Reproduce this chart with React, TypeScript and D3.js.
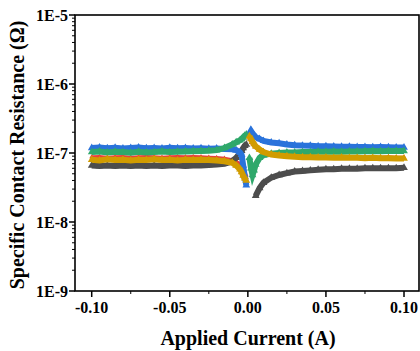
import React from "react";
import * as d3 from "d3";

const currents = [
  -0.1, -0.095, -0.09, -0.085, -0.08, -0.075, -0.07, -0.065, -0.06, -0.055, -0.05, -0.045, -0.04, -0.035, -0.03,
  -0.025, -0.02, -0.015, -0.01, -0.0075, -0.005, -0.004, -0.003, -0.002, -0.001,
  0.001, 0.002, 0.003, 0.004, 0.005, 0.0075, 0.01, 0.015, 0.02, 0.025, 0.03, 0.035, 0.04, 0.045, 0.05,
  0.055, 0.06, 0.065, 0.07, 0.075, 0.08, 0.085, 0.09, 0.095, 0.1,
];

// values in units of 1e-7 ohm (null = no point)
const redSeries = [
  0.88, 0.89, 0.87, 0.88, 0.89, 0.87, 0.88, 0.89, 0.88, 0.87, 0.88, 0.89, 0.88, 0.89, 0.88,
  0.87, 0.86, 0.84, 0.8, 0.76, 0.7, 0.64, 0.58, 0.52, 0.48,
  1.6, 1.5, 1.38, 1.28, 1.2, 1.08, 1.0, 0.93, 0.9, 0.89, 0.88, 0.88, 0.87, 0.88, 0.87,
  0.87, 0.88, 0.87, 0.87, 0.88, 0.87, 0.87, 0.88, 0.87, 0.87,
];
const graySeries = [
  0.66, 0.65, 0.66, 0.65, 0.66, 0.65, 0.66, 0.65, 0.66, 0.65, 0.66, 0.66, 0.65, 0.66, 0.66,
  0.67, 0.68, 0.7, 0.76, 0.85, 0.98, 1.08, 1.18, 1.27, 1.33,
  null, null, null, null, 0.24, 0.31, 0.37, 0.44, 0.48, 0.51, 0.54, 0.55, 0.56, 0.57, 0.58,
  0.58, 0.59, 0.59, 0.59, 0.6, 0.6, 0.6, 0.6, 0.6, 0.61,
];
const blueSeries = [
  1.18, 1.2, 1.17, 1.19, 1.16, 1.18, 1.2, 1.17, 1.18, 1.16, 1.19, 1.17, 1.18, 1.16, 1.17,
  1.15, 1.16, 1.14, 1.13, 1.1, 1.02, 0.94, 0.66, 0.46, 0.34,
  1.9, 2.08, 1.92, 1.8, 1.7, 1.6, 1.5, 1.42, 1.38, 1.33, 1.3, 1.28, 1.27, 1.25, 1.25,
  1.24, 1.23, 1.23, 1.22, 1.22, 1.21, 1.22, 1.21, 1.2, 1.2,
];
const greenSeries = [
  1.03, 1.05, 1.02, 1.04, 1.03, 1.01, 1.04, 1.02, 1.03, 1.05, 1.03, 1.04, 1.05, 1.06, 1.07,
  1.08, 1.1, 1.18, 1.33, 1.43, 1.53, 1.6, 1.68, 1.78, 1.85,
  0.85, 0.6, 0.48, 0.56, 0.68, 0.85, 0.93, 0.98, 1.0, 1.02, 1.02, 1.03, 1.03, 1.04, 1.04,
  1.05, 1.04, 1.05, 1.05, 1.06, 1.07, 1.06, 1.07, 1.07, 1.07,
];
const goldSeries = [
  0.8, 0.78, 0.81, 0.79, 0.8, 0.78, 0.8, 0.79, 0.81, 0.79, 0.8, 0.78, 0.8, 0.79, 0.8,
  0.79, 0.78, 0.76, 0.72, 0.66, 0.58, 0.53, 0.47, 0.43, 0.4,
  1.75, 1.6, 1.45, 1.35, 1.25, 1.12, 1.03, 0.95, 0.92, 0.9, 0.88, 0.87, 0.87, 0.86, 0.86,
  0.85, 0.86, 0.85, 0.85, 0.84, 0.85, 0.84, 0.84, 0.83, 0.83,
];

const seriesList = [
  { name: "red", color: "#e8413a", values: redSeries, width: 3, size: 10 },
  { name: "gray", color: "#4d4d4d", values: graySeries, width: 6, size: 26 },
  { name: "blue", color: "#2a73db", values: blueSeries, width: 6, size: 26 },
  { name: "green", color: "#2fa86b", values: greenSeries, width: 6, size: 26 },
  { name: "gold", color: "#d19c00", values: goldSeries, width: 6, size: 26 },
];

const xTicks = [-0.1, -0.05, 0, 0.05, 0.1];
const xTickLabels = ["-0.10", "-0.05", "0.00", "0.05", "0.10"];
const xMinorTicks = [-0.075, -0.025, 0.025, 0.075];
const yTicks = [1e-9, 1e-8, 1e-7, 1e-6, 1e-5];
const yTickLabels = ["1E-9", "1E-8", "1E-7", "1E-6", "1E-5"];

const W = 420;
const H = 351;
const L = 75;
const R = 419;
const T = 15;
const B = 291;
const FONT = "'Liberation Serif', 'Times New Roman', serif";

export default function App() {
  const x = d3.scaleLinear().domain([-0.1107, 0.1096]).range([L, R]);
  const y = d3.scaleLog().domain([1e-9, 1e-5]).range([B, T]);

  const minorY: number[] = [];
  for (let e = -9; e < -5; e++) {
    for (let m = 2; m <= 9; m++) minorY.push(m * Math.pow(10, e));
  }

  const line = d3
    .line<{ xv: number; yv: number | null }>()
    .defined((d) => d.yv !== null)
    .x((d) => x(d.xv))
    .y((d) => y((d.yv as number) * 1e-7));

  return (
    <svg width={W} height={H} style={{ position: "absolute", left: 0, top: 0, background: "#fff" }}>
      <rect x={0} y={0} width={W} height={H} fill="#fff" />
      <g>
        {seriesList.map((s) => {
          const tri = d3.symbol().type(d3.symbolTriangle).size(s.size)() as string;
          const pts = currents.map((c, i) => ({ xv: c, yv: s.values[i] }));
          const neg = pts.filter((p) => p.xv < 0);
          const pos = pts.filter((p) => p.xv > 0);
          return (
            <g key={s.name}>
              <path d={line(neg) || ""} fill="none" stroke={s.color} strokeWidth={s.width} />
              <path d={line(pos) || ""} fill="none" stroke={s.color} strokeWidth={s.width} />
              {pts
                .filter((p) => p.yv !== null)
                .map((p, i) => (
                  <path
                    key={i}
                    d={tri}
                    transform={`translate(${x(p.xv)},${y((p.yv as number) * 1e-7)})`}
                    fill={s.color}
                  />
                ))}
            </g>
          );
        })}
      </g>
      {/* frame */}
      <rect x={L} y={T} width={R - L} height={B - T} fill="none" stroke="#000" strokeWidth={1.6} />
      {/* y ticks */}
      {yTicks.map((t, i) => (
        <g key={"y" + i}>
          <line x1={L - 6} x2={L} y1={y(t)} y2={y(t)} stroke="#000" strokeWidth={1.5} />
          <text
            x={68}
            y={y(t)}
            dy="0.35em"
            textAnchor="end"
            fontFamily={FONT}
            fontWeight="bold"
            fontSize={16}
          >
            {yTickLabels[i]}
          </text>
        </g>
      ))}
      {minorY.map((t, i) => (
        <line key={"ym" + i} x1={L - 3} x2={L} y1={y(t)} y2={y(t)} stroke="#000" strokeWidth={1} />
      ))}
      {/* x ticks */}
      {xTicks.map((t, i) => (
        <g key={"x" + i}>
          <line x1={x(t)} x2={x(t)} y1={B} y2={B + 6} stroke="#000" strokeWidth={1.5} />
          <text
            x={x(t)}
            y={313}
            textAnchor="middle"
            fontFamily={FONT}
            fontWeight="bold"
            fontSize={16}
          >
            {xTickLabels[i]}
          </text>
        </g>
      ))}
      {xMinorTicks.map((t, i) => (
        <line key={"xm" + i} x1={x(t)} x2={x(t)} y1={B} y2={B + 3} stroke="#000" strokeWidth={1} />
      ))}
      <text x={248} y={345} textAnchor="middle" fontFamily={FONT} fontWeight="bold" fontSize={20}>
        Applied Current (A)
      </text>
      <text
        transform={`translate(24,155) rotate(-90)`}
        textAnchor="middle"
        fontFamily={FONT}
        fontWeight="bold"
        fontSize={20}
      >
        Specific Contact Resistance (Ω)
      </text>
    </svg>
  );
}
